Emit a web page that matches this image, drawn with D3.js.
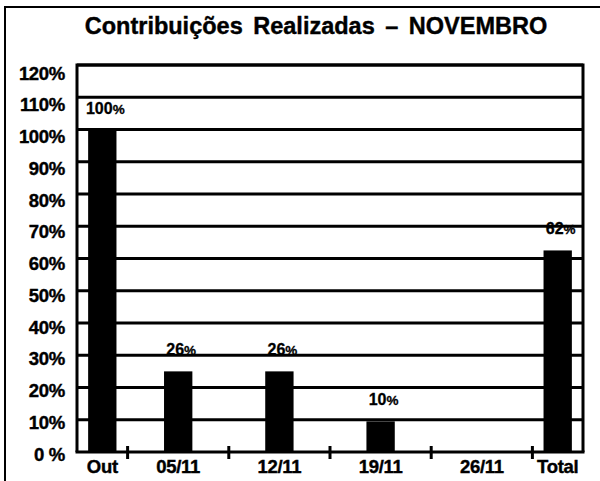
<!DOCTYPE html>
<html>
<head>
<meta charset="utf-8">
<script src="https://cdn.jsdelivr.net/npm/d3@7/dist/d3.min.js"></script>
<style>
  html, body { margin: 0; padding: 0; background: #fff; overflow: hidden; width: 600px; height: 481px; }
  svg { display: block; font-family: "Liberation Sans", Arial, sans-serif; font-weight: bold; }
</style>
</head>
<body>
<svg id="chart" width="600" height="481"></svg>
<script>
const title = "Contribuições Realizadas – NOVEMBRO";
const categories = ["Out", "05/11", "12/11", "19/11", "26/11", "Total"];
const values = [100, 25, 25, 9.5, null, 62.5];
const valueLabels = ["100", "26", "26", "10", null, "62"];
const yTicks = [0, 10, 20, 30, 40, 50, 60, 70, 80, 90, 100, 110, 120];
const yTickLabels = ["0 %", "10%", "20%", "30%", "40%", "50%", "60%", "70%", "80%", "90%", "100%", "110%", "120%"];

const svg = d3.select("#chart");
const W = 600, H = 481;
const plot = { left: 77, right: 583, top: 65, bottom: 452 };

// outer frame: only left and top edges are inside the canvas, as in the reference
svg.append("path")
  .attr("d", `M5,${H}V7H${W}`)
  .attr("fill", "none").attr("stroke", "#000").attr("stroke-width", 2);

// x: first and last categories occupy half-width slots
const n = categories.length;
const slot = i => i === 0 ? 0.25 : (i === n - 1 ? n - 1.25 : i);
const x = d3.scaleLinear().domain([0, n - 1]).range([plot.left, plot.right]);
const y = d3.scaleLinear().domain([0, 120]).range([plot.bottom, plot.top]);
const yLab = d3.scaleLinear().domain([0, 120]).range([plot.bottom + 2, plot.top + 8]);
const barW = x(0.28) - x(0);

// title
svg.append("text")
  .attr("x", 316).attr("y", 34)
  .attr("text-anchor", "middle")
  .attr("font-size", 23.5)
  .attr("word-spacing", 4)
  .attr("stroke", "#000").attr("stroke-width", 0.4)
  .text(title);

// gridlines
svg.append("g").selectAll("line")
  .data(yTicks.filter(t => t > 0))
  .join("line")
  .attr("x1", plot.left).attr("x2", plot.right)
  .attr("y1", d => y(d)).attr("y2", d => y(d))
  .attr("stroke", "#000").attr("stroke-width", 3);

// y labels
svg.append("g").selectAll("text")
  .data(yTicks)
  .join("text")
  .attr("x", 65)
  .attr("y", d => yLab(d))
  .attr("dy", "0.36em")
  .attr("text-anchor", "end")
  .attr("font-size", 18.5)
  .attr("letter-spacing", -0.3)
  .attr("stroke", "#000").attr("stroke-width", 0.4)
  .text((d, i) => yTickLabels[i]);

// bars
const data = categories.map((c, i) => ({ c, i, v: values[i], lab: valueLabels[i] }));
svg.append("g").selectAll("rect")
  .data(data.filter(d => d.v != null))
  .join("rect")
  .attr("x", d => x(slot(d.i)) - barW / 2)
  .attr("width", barW)
  .attr("y", d => y(d.v))
  .attr("height", d => y(0) - y(d.v))
  .attr("fill", "#000");

// value labels
const vl = svg.append("g").selectAll("text")
  .data(data.filter(d => d.lab != null))
  .join("text")
  .attr("x", d => x(slot(d.i)) + 3)
  .attr("y", d => y(d.v) - 16)
  .attr("text-anchor", "middle")
  .attr("font-size", 16)
  .attr("stroke", "#000").attr("stroke-width", 0.3);
vl.append("tspan").text(d => d.lab);
vl.append("tspan").attr("font-size", 13.5).text("%");

// plot frame
svg.append("path")
  .attr("d", `M${plot.left},${plot.bottom}V${plot.top}H${plot.right}V${plot.bottom}`)
  .attr("fill", "none").attr("stroke", "#000").attr("stroke-width", 3);

// x axis
const xAxis = svg.append("g");
xAxis.append("line")
  .attr("x1", plot.left - 1.5).attr("x2", plot.right + 1.5)
  .attr("y1", plot.bottom).attr("y2", plot.bottom)
  .attr("stroke", "#000").attr("stroke-width", 3);
xAxis.selectAll("line.tick")
  .data(d3.range(0.5, n - 1, 1))
  .join("line")
  .attr("class", "tick")
  .attr("x1", d => x(d)).attr("x2", d => x(d))
  .attr("y1", plot.bottom - 6).attr("y2", plot.bottom + 7)
  .attr("stroke", "#000").attr("stroke-width", 3);
xAxis.selectAll("text")
  .data(data)
  .join("text")
  .attr("x", d => x(slot(d.i)))
  .attr("y", 473)
  .attr("text-anchor", "middle")
  .attr("font-size", 18.5)
  .attr("letter-spacing", -0.3)
  .attr("stroke", "#000").attr("stroke-width", 0.4)
  .text(d => d.c);
</script>
</body>
</html>
